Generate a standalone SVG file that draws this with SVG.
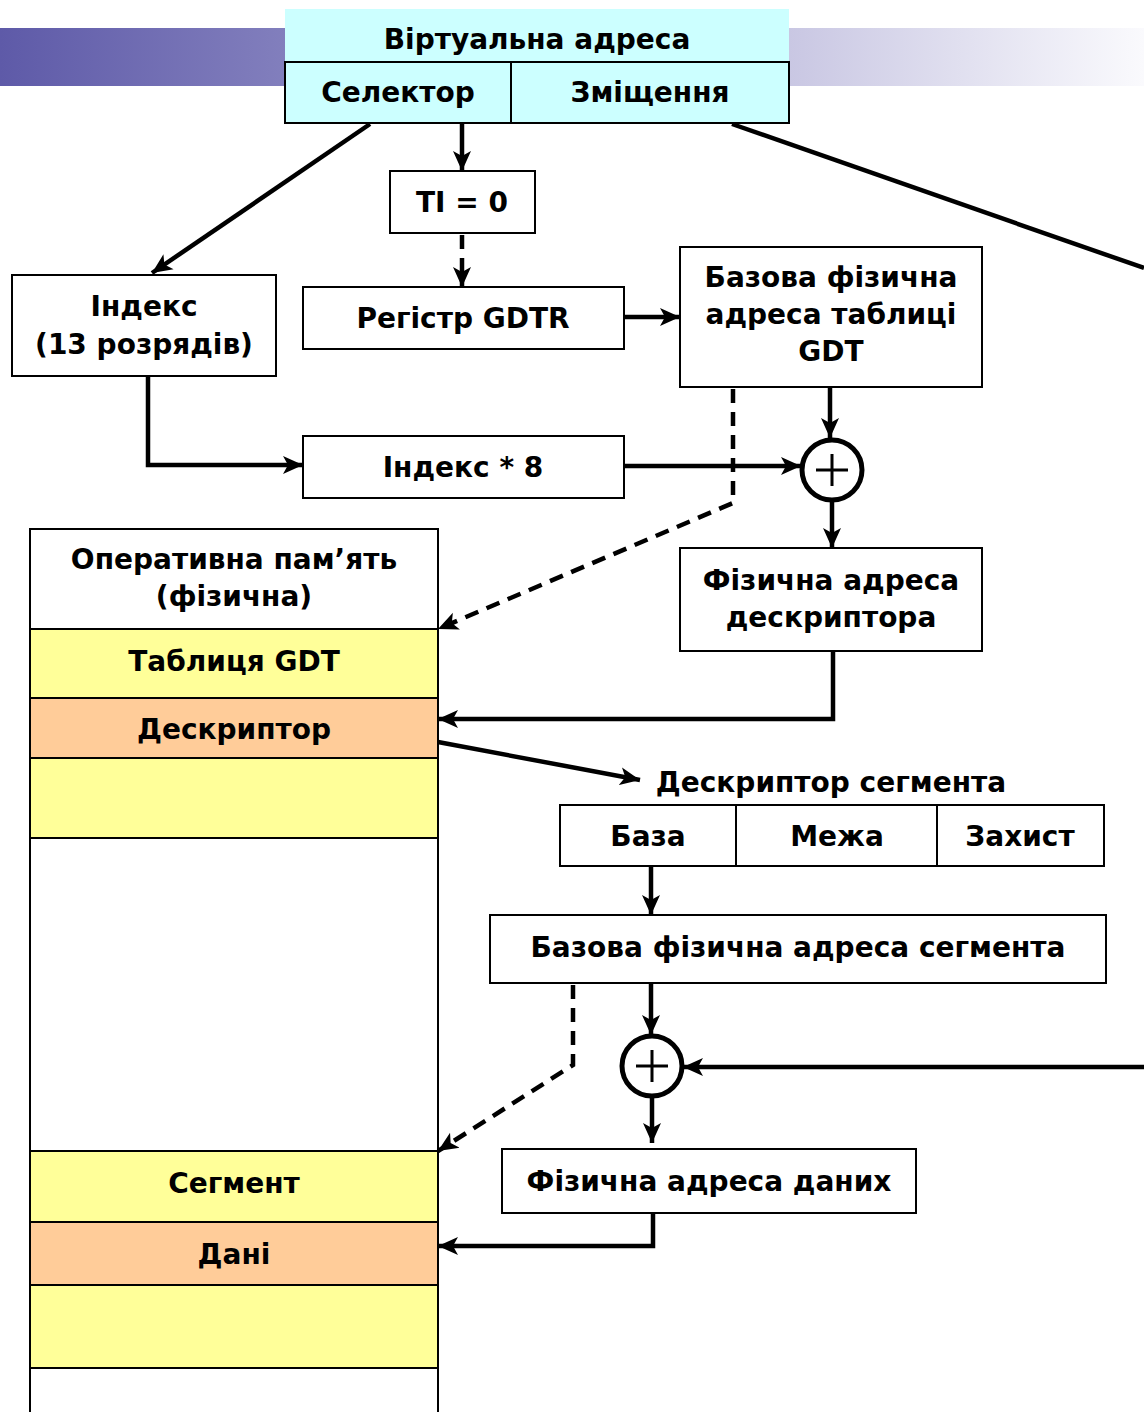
<svg xmlns="http://www.w3.org/2000/svg" width="1144" height="1412" viewBox="0 0 1144 1412">
<defs>
<linearGradient id="bar" x1="0" y1="0" x2="1" y2="0">
<stop offset="0" stop-color="#5E5AA8"/>
<stop offset="0.25" stop-color="#827FBD"/>
<stop offset="0.69" stop-color="#C9C7E3"/>
<stop offset="1" stop-color="#FAFAFD"/>
</linearGradient>
<marker id="ah" markerUnits="userSpaceOnUse" markerWidth="22" markerHeight="20" viewBox="0 0 22 20" refX="20" refY="10" orient="auto">
<path d="M0,1 L20,10 L0,19 L5,10 z" fill="#000"/>
</marker>
</defs>
<style>
text{font-family:"DejaVu Sans","Verdana",sans-serif;font-weight:bold;font-size:28px;fill:#000;text-anchor:middle}
.box{fill:#fff;stroke:#000;stroke-width:2}
.cy{fill:#CCFFFF;stroke:#000;stroke-width:2}
.ye{fill:#FFFF99;stroke:#000;stroke-width:2}
.or{fill:#FFCC99;stroke:#000;stroke-width:2}
.ln{fill:none;stroke:#000;stroke-width:4.5;marker-end:url(#ah)}
.nl{fill:none;stroke:#000;stroke-width:4.5}
.ds{fill:none;stroke:#000;stroke-width:4.5;stroke-dasharray:14,9;marker-end:url(#ah)}
.pl{fill:#fff;stroke:#000;stroke-width:5}
</style>
<rect x="0" y="28" width="1144" height="58" fill="url(#bar)"/>

<g id="virtual-address">
<rect x="285" y="9" width="504" height="53" fill="#CCFFFF"/>
<text x="537" y="49">Віртуальна адреса</text>
</g>
<g id="selector">
<rect class="cy" x="285" y="62" width="226" height="61"/>
<text x="398" y="102">Селектор</text>
</g>
<g id="offset">
<rect class="cy" x="511" y="62" width="278" height="61"/>
<text x="650" y="102">Зміщення</text>
</g>
<g id="ti">
<rect class="box" x="390" y="171" width="145" height="62"/>
<text x="462" y="212">TI = 0</text>
</g>
<g id="index">
<rect class="box" x="12" y="275" width="264" height="101"/>
<text x="144" y="316">Індекс</text>
<text x="144" y="354">(13 розрядів)</text>
</g>
<g id="gdtr">
<rect class="box" x="303" y="287" width="321" height="62"/>
<text x="463" y="328">Регістр GDTR</text>
</g>
<g id="gdt-base">
<rect class="box" x="680" y="247" width="302" height="140"/>
<text x="831" y="287">Базова фізична</text>
<text x="831" y="324">адреса таблиці</text>
<text x="831" y="361">GDT</text>
</g>
<g id="index8">
<rect class="box" x="303" y="436" width="321" height="62"/>
<text x="463" y="477">Індекс * 8</text>
</g>
<g id="plus1">
<circle class="pl" cx="832" cy="470" r="30"/>
<path d="M816,470 H848 M832,454 V486" stroke="#000" stroke-width="3"/>
</g>
<g id="desc-phys">
<rect class="box" x="680" y="548" width="302" height="103"/>
<text x="831" y="590">Фізична адреса</text>
<text x="831" y="627">дескриптора</text>
</g>
<g id="memory">
<rect class="box" x="30" y="529" width="408" height="900"/>
<text x="234" y="569">Оперативна пам’ять</text>
<text x="234" y="606">(фізична)</text>
<rect class="ye" x="30" y="629" width="408" height="69"/>
<text x="234" y="671">Таблиця GDT</text>
<rect class="or" x="30" y="698" width="408" height="60"/>
<text x="234" y="739">Дескриптор</text>
<rect class="ye" x="30" y="758" width="408" height="80"/>
<rect class="ye" x="30" y="1151" width="408" height="71"/>
<text x="234" y="1193">Сегмент</text>
<rect class="or" x="30" y="1222" width="408" height="63"/>
<text x="234" y="1264">Дані</text>
<rect class="ye" x="30" y="1285" width="408" height="83"/>
</g>
<g id="seg-desc">
<text x="831" y="792">Дескриптор сегмента</text>
<rect class="box" x="560" y="805" width="176" height="61"/>
<text x="648" y="846">База</text>
<rect class="box" x="736" y="805" width="201" height="61"/>
<text x="837" y="846">Межа</text>
<rect class="box" x="937" y="805" width="167" height="61"/>
<text x="1020" y="846">Захист</text>
</g>
<g id="seg-base">
<rect class="box" x="490" y="915" width="616" height="68"/>
<text x="798" y="957">Базова фізична адреса сегмента</text>
</g>
<g id="plus2">
<circle class="pl" cx="652" cy="1066" r="30"/>
<path d="M636,1066 H668 M652,1050 V1082" stroke="#000" stroke-width="3"/>
</g>
<g id="data-phys">
<rect class="box" x="502" y="1149" width="414" height="64"/>
<text x="709" y="1191">Фізична адреса даних</text>
</g>

<g id="connectors">
<path class="ln" d="M370,124 L152,273"/>
<path class="ln" d="M462,124 V171"/>
<path class="ds" d="M462,235 V287"/>
<path class="ln" d="M624,317 H680"/>
<path class="ln" d="M830,388 V438"/>
<path class="ln" d="M148,377 V465 H303"/>
<path class="ln" d="M624,466 H801"/>
<path class="ds" d="M733,389 V503 L438,629"/>
<path class="ln" d="M832,501 V548"/>
<path class="ln" d="M833,651 V719 H438"/>
<path class="ln" d="M438,742 L640,780"/>
<path class="nl" d="M732,124 L1144,268"/>
<path class="ln" d="M651,866 V915"/>
<path class="ln" d="M651,984 V1035"/>
<path class="ln" d="M1144,1067 H683"/>
<path class="ds" d="M573,985 V1065 L438,1151"/>
<path class="ln" d="M652,1097 V1143"/>
<path class="ln" d="M653,1213 V1246 H438"/>
</g>
</svg>
